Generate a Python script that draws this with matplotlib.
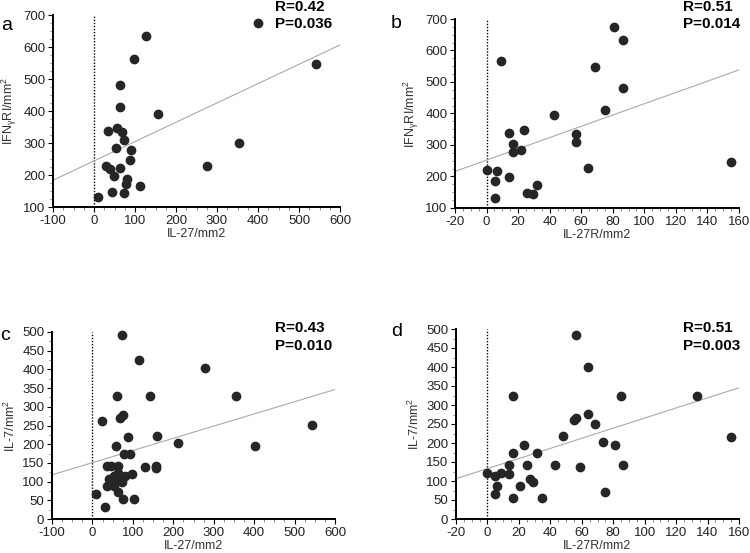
"""Four correlation scatter plots (IL-27 / IL-27R vs IFNγRI / IL-7) in a 2x2 layout."""
import matplotlib
matplotlib.use("Agg")
import matplotlib.pyplot as plt
from matplotlib.ticker import AutoMinorLocator

plt.rcParams["font.family"] = ["Liberation Sans", "DejaVu Sans"]
plt.rcParams["mathtext.fontset"] = "custom"
plt.rcParams["mathtext.rm"] = "Liberation Sans"
plt.rcParams["axes.unicode_minus"] = False

# panel a: IL-27 vs IFNγRI
a_x = [128, 97, 63, 63, 157, 35, 57, 68, 73, 53, 90, 87, 30, 38, 63, 48, 80, 77,
       113, 43, 73, 9, 276, 353, 541, 400]
a_y = [634, 564, 481, 412, 392, 337, 347, 335, 309, 285, 277, 246, 228, 218, 221,
       197, 188, 172, 166, 146, 144, 131, 228, 299, 547, 674]

# panel b: IL-27R vs IFNγRI
b_x = [81, 86.5, 9, 69, 86.5, 75, 43, 14, 24, 56.5, 56.5, 16.6, 16.6, 21.6, 0,
       6.8, 5.4, 14, 64, 5.4, 25.4, 29.4, 32, 155]
b_y = [675, 634, 566, 547, 482, 412, 394, 338, 348, 335, 308, 302, 278, 285, 222,
       218, 187, 197, 228, 131, 147, 143, 172, 247]

# panel c: IL-27 vs IL-7
c_x = [73, 114, 278, 61, 143, 356, 24.5, 75.6, 69, 543, 88, 160.5, 212, 402, 59,
       77, 92, 36, 47, 63, 129.5, 158, 158, 42, 52.5, 63, 80, 98, 36, 52.5, 73,
       63, 75.6, 103, 9.6, 32, 57.6]
c_y = [491, 425, 404, 328, 328, 328, 262, 279, 270, 252, 220, 221, 204, 196, 196,
       174, 174, 142, 142, 142, 140, 142, 137, 107, 116, 123, 114, 121, 88, 89, 98,
       71, 54, 54, 66, 33, 110]

# panel d: IL-27R vs IL-7
d_x = [56.3, 64, 16.3, 85, 133, 64, 55, 56.3, 68.6, 48.3, 155, 73.7, 81, 23.5,
       16.3, 31.7, 13.5, 25, 43, 58.9, 86.2, 0, 8.8, 5, 13.9, 5.9, 4.8, 16.3, 20.9,
       26.9, 28.8, 35, 75]
d_y = [485, 400, 325, 325, 325, 277, 261, 267, 249, 219, 217, 202, 195, 195, 173,
       173, 142, 142, 142, 137, 141, 121, 121, 114, 118, 88, 66, 54, 88, 106, 98,
       54, 72]

# regression lines (intercept, slope)
a_fit = (244, 0.604)
b_fit = (252, 1.79)
c_fit = (150.6, 0.326)
d_fit = (132.6, 1.33)

W, H = 750, 553
fig = plt.figure(figsize=(7.5, 5.53), dpi=100)


def box(l, r, t, b):
    return [l / W, 1 - b / H, (r - l) / W, (b - t) / H]


def panel(rect, x, y, fit, xlim, ylim, xstep, ystep, xminor, yminor, xlabel, ylabel):
    ax = fig.add_axes(rect)
    ax.scatter(x, y, s=36, color="#262626", zorder=3, clip_on=False)
    xs = [xlim[0], xlim[1]]
    ax.plot(xs, [fit[0] + fit[1] * v for v in xs], color="#aaaaaa", lw=0.8, zorder=2)
    ax.axvline(0, color="black", ls=(0, (1, 1.2)), lw=1.0, zorder=1)
    ax.set_xlim(*xlim)
    ax.set_ylim(*ylim)
    ax.set_xticks(range(xlim[0], xlim[1] + 1, xstep))
    ax.set_yticks(range(ylim[0], ylim[1] + 1, ystep))
    ax.xaxis.set_minor_locator(AutoMinorLocator(xminor))
    ax.yaxis.set_minor_locator(AutoMinorLocator(yminor))
    for s in ("top", "right"):
        ax.spines[s].set_visible(False)
    for s in ("left", "bottom"):
        ax.spines[s].set_linewidth(1.4)
    ax.tick_params(which="major", length=3.5, width=0.8, labelsize=9.5, pad=2,
                   labelcolor="#222222")
    ax.tick_params(which="minor", length=2, width=0.6, color="#777777")
    ax.set_xlabel(xlabel, fontsize=9, labelpad=1, color="#333333")
    ax.set_ylabel(ylabel, fontsize=9, labelpad=3, color="#333333")
    return ax


ifn_label = r"IFN$_\mathregular{γ}$RI/mm$^2$"
il7_label = r"IL-7/mm$^2$"

panel(box(53, 340, 15, 207), a_x, a_y, a_fit, (-100, 600), (100, 700), 100, 100,
      4, 4, "IL-27/mm2", ifn_label)
panel(box(455, 739, 19, 208), b_x, b_y, b_fit, (-20, 160), (100, 700), 20, 100,
      4, 4, "IL-27R/mm2", ifn_label)
panel(box(52, 335, 332, 519), c_x, c_y, c_fit, (-100, 600), (0, 500), 100, 50,
      4, 2, "IL-27/mm2", il7_label)
panel(box(456, 739, 329, 519), d_x, d_y, d_fit, (-20, 160), (0, 500), 20, 50,
      4, 2, "IL-27R/mm2", il7_label)

# panel letters
for lab, px, py in [("a", 1, 26), ("b", 391, 24), ("c", 0, 336), ("d", 391, 332)]:
    fig.text(px / W, 1 - py / H, lab, fontsize=14, va="center", ha="left")

# R / P annotations
for txt, px, py in [("R=0.42", 275, 7), ("P=0.036", 275, 24),
                    ("R=0.51", 683, 7), ("P=0.014", 683, 24),
                    ("R=0.43", 275, 328), ("P=0.010", 275, 346),
                    ("R=0.51", 683, 328), ("P=0.003", 683, 346)]:
    fig.text(px / W, 1 - py / H, txt, fontsize=11, fontweight="bold",
             va="center", ha="left")

fig.savefig("out.png", dpi=100)
